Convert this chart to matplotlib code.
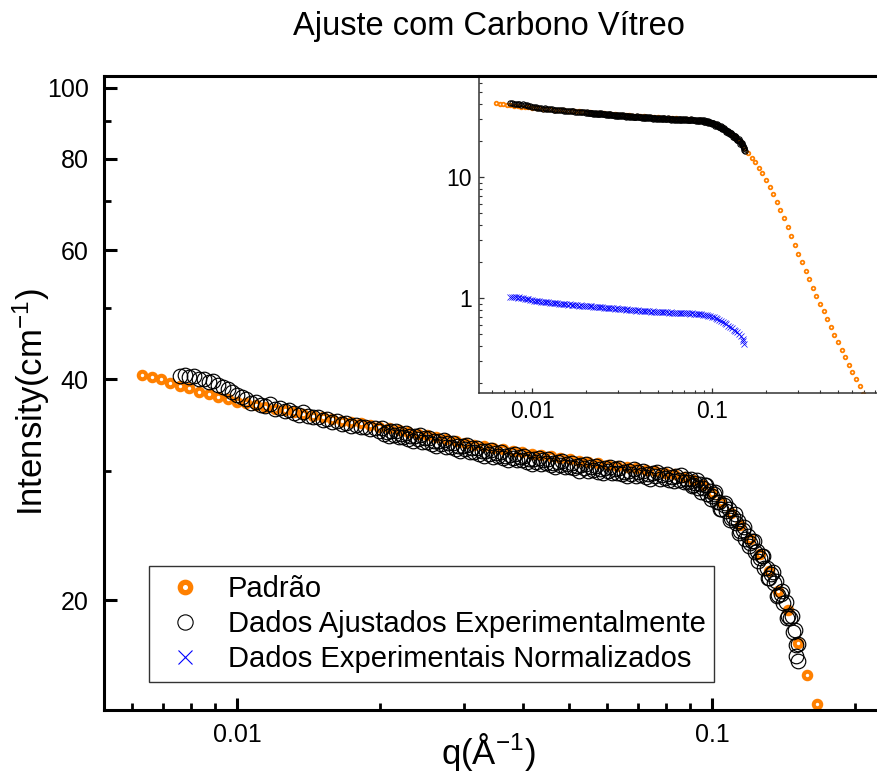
import matplotlib
matplotlib.use('Agg')
import matplotlib.pyplot as plt
from matplotlib.lines import Line2D
from matplotlib.ticker import NullFormatter, LogLocator

plt.rcParams['font.family'] = ['Liberation Sans', 'DejaVu Sans']
plt.rcParams['mathtext.default'] = 'regular'

# padrão (glassy carbon standard curve)
q_padrao = [0.00631, 0.00661, 0.00692, 0.00724, 0.00759, 0.00794, 0.00832, 0.00871, 0.00912, 0.00955,
            0.01000, 0.01047, 0.01096, 0.01148, 0.01202, 0.01259, 0.01318, 0.01380, 0.01445, 0.01514,
            0.01585, 0.01660, 0.01738, 0.01820, 0.01905, 0.01995, 0.02089, 0.02188, 0.02291, 0.02399,
            0.02512, 0.02630, 0.02754, 0.02884, 0.03020, 0.03162, 0.03311, 0.03467, 0.03631, 0.03802,
            0.03981, 0.04169, 0.04365, 0.04571, 0.04786, 0.05012, 0.05248, 0.05495, 0.05754, 0.06026,
            0.06310, 0.06607, 0.06918, 0.07244, 0.07586, 0.07943, 0.08318, 0.08710, 0.09120, 0.09550,
            0.1000, 0.1047, 0.1096, 0.1148, 0.1202, 0.1259, 0.1318, 0.1380, 0.1445, 0.1514,
            0.1585, 0.1660, 0.1738, 0.1820, 0.1905, 0.1995, 0.2089, 0.2188, 0.2291, 0.2399,
            0.2512, 0.2630, 0.2754, 0.2884, 0.3020, 0.3162, 0.3311, 0.3467, 0.3631, 0.3802,
            0.3981, 0.4169, 0.4365, 0.4571, 0.4786, 0.5012, 0.5248, 0.5495, 0.5754, 0.6026,
            0.6310, 0.6607, 0.6918]
i_padrao = [40.6, 40.3, 40.0, 39.6, 39.2, 38.9, 38.5, 38.2, 37.9, 37.6,
            37.3, 37.1, 36.9, 36.7, 36.5, 36.3, 36.1, 35.9, 35.7, 35.5,
            35.3, 35.15, 35.0, 34.85, 34.7, 34.5, 34.3, 34.1, 33.9, 33.75,
            33.55, 33.4, 33.2, 33.0, 32.8, 32.6, 32.45, 32.3, 32.15, 32.0,
            31.85, 31.7, 31.6, 31.45, 31.3, 31.15, 31.0, 30.9, 30.75, 30.6,
            30.5, 30.35, 30.25, 30.1, 30.0, 29.85, 29.7, 29.45, 29.2, 28.7,
            28.0, 27.2, 26.3, 25.3, 24.2, 23.1, 21.9, 20.6, 19.4, 17.5,
            15.8, 14.45, 13.2, 11.95, 10.7, 9.45, 8.3, 7.2, 6.2, 5.33,
            4.56, 3.86, 3.27, 2.76, 2.33, 1.98, 1.68, 1.43, 1.22, 1.047,
            0.900, 0.774, 0.668, 0.577, 0.499, 0.432, 0.374, 0.324, 0.282, 0.245,
            0.213, 0.186, 0.162]

# dados ajustados experimentalmente (last block: extra points around the knee)
q_ajustado = [0.007586, 0.007762, 0.007943, 0.008128, 0.008318, 0.008511, 0.008710, 0.008913, 0.009120, 0.009333,
              0.009550, 0.009772, 0.01000, 0.01023, 0.01047, 0.01072, 0.01096, 0.01122, 0.01148, 0.01175,
              0.01202, 0.01230, 0.01259, 0.01288, 0.01318, 0.01349, 0.01380, 0.01413, 0.01445, 0.01479,
              0.01514, 0.01549, 0.01585, 0.01622, 0.01660, 0.01698, 0.01738, 0.01778, 0.01820, 0.01862,
              0.01905, 0.01950, 0.01995,
              0.02018, 0.02042, 0.02065, 0.02089, 0.02114, 0.02138, 0.02163, 0.02188, 0.02213, 0.02239,
              0.02265, 0.02291, 0.02317, 0.02344, 0.02371, 0.02399, 0.02427, 0.02455, 0.02483, 0.02512,
              0.02541, 0.02570, 0.02600, 0.02630, 0.02661, 0.02692, 0.02723, 0.02754, 0.02786, 0.02818,
              0.02851, 0.02884, 0.02917, 0.02951, 0.02985, 0.03020, 0.03055, 0.03090, 0.03126, 0.03162,
              0.03199, 0.03236, 0.03273, 0.03311, 0.03350, 0.03388, 0.03428, 0.03467, 0.03508, 0.03548,
              0.03589, 0.03631, 0.03673, 0.03715, 0.03758, 0.03802, 0.03846, 0.03890, 0.03936, 0.03981,
              0.04027, 0.04074, 0.04121, 0.04169, 0.04217, 0.04266, 0.04315, 0.04365, 0.04416, 0.04467,
              0.04519, 0.04571, 0.04624, 0.04677, 0.04732, 0.04786, 0.04842, 0.04898, 0.04955, 0.05012,
              0.05070, 0.05129, 0.05188, 0.05248, 0.05309, 0.05370, 0.05433, 0.05495, 0.05559, 0.05623,
              0.05689, 0.05754, 0.05821, 0.05888, 0.05957, 0.06026, 0.06095, 0.06166, 0.06237, 0.06310,
              0.06383, 0.06457, 0.06531, 0.06607, 0.06683, 0.06761, 0.06839, 0.06918, 0.06998, 0.07079,
              0.07161, 0.07244, 0.07328, 0.07413, 0.07499, 0.07586, 0.07674, 0.07762, 0.07852, 0.07943,
              0.08035, 0.08128, 0.08222, 0.08318, 0.08414, 0.08511, 0.08610, 0.08710, 0.08810, 0.08913,
              0.09016, 0.09120, 0.09226, 0.09333, 0.09441, 0.09550, 0.09661, 0.09772, 0.09886, 0.1000,
              0.1012, 0.1023, 0.1035, 0.1047, 0.1059, 0.1072, 0.1084, 0.1096, 0.1109, 0.1122,
              0.1135, 0.1148, 0.1161, 0.1175, 0.1189, 0.1202, 0.1216, 0.1230, 0.1245, 0.1259,
              0.1274, 0.1288, 0.1303, 0.1318, 0.1334, 0.1349, 0.1365, 0.1380, 0.1396, 0.1413,
              0.1429, 0.1445, 0.1462, 0.1479, 0.1496, 0.1514, 0.1520,
              0.09068, 0.09279, 0.09495, 0.09716, 0.09943, 0.1017, 0.1041, 0.1065, 0.1090, 0.1116,
              0.1142, 0.1168, 0.1195, 0.1223, 0.1252, 0.1281, 0.1311, 0.1341, 0.1373, 0.1404,
              0.1437, 0.1471, 0.1505, 0.1505]
i_ajustado = [40.5, 40.6, 40.3, 40.4, 40.0, 40.1, 39.7, 39.8, 39.3, 39.1,
              38.8, 38.4, 38.1, 37.8, 37.6, 37.2, 37.3, 36.9, 36.8, 37.0,
              36.5, 36.6, 36.2, 36.4, 36.0, 35.8, 36.1, 35.7, 35.5, 35.6,
              35.2, 35.3, 35.0, 35.1, 34.8, 34.9, 34.6, 34.7, 34.4, 34.5,
              34.2, 34.3, 34.0,
              34.3, 33.7, 33.95, 33.5, 34.0, 33.65, 34.05, 33.4, 33.75, 33.4,
              33.8, 33.2, 33.45, 33.0, 33.5, 33.15, 33.55, 32.9, 33.25, 32.9,
              33.3, 32.7, 32.95, 32.5, 33.0, 32.65, 33.05, 32.4, 32.75, 32.4,
              32.8, 32.2, 32.45, 32.0, 32.5, 32.15, 32.55, 31.9, 32.25, 31.9,
              32.3, 31.7, 31.95, 31.5, 32.0, 31.65, 32.05, 31.4, 31.75, 31.45,
              31.85, 31.25, 31.5, 31.1, 31.6, 31.25, 31.65, 31.05, 31.4, 31.05,
              31.45, 30.9, 31.15, 30.7, 31.2, 30.9, 31.3, 30.7, 31.05, 30.75,
              31.15, 30.55, 30.8, 30.4, 30.9, 30.6, 31.0, 30.35, 30.7, 30.4,
              30.8, 30.25, 30.5, 30.05, 30.55, 30.25, 30.65, 30.05, 30.4, 30.1,
              30.5, 29.95, 30.2, 29.8, 30.3, 30.0, 30.4, 29.8, 30.15, 29.85,
              30.25, 29.7, 29.95, 29.55, 30.05, 29.75, 30.15, 29.55, 29.9, 29.6,
              30.0, 29.45, 29.7, 29.3, 29.8, 29.5, 29.9, 29.3, 29.65, 29.35,
              29.75, 29.2, 29.45, 29.05, 29.55, 29.2, 29.6, 28.95, 29.3, 28.95,
              29.3, 28.7, 28.9, 28.4, 28.8, 28.4, 28.7, 27.95, 28.15, 27.7,
              27.95, 27.2, 27.25, 26.65, 26.95, 26.45, 26.65, 25.85, 26.0, 25.45,
              25.65, 24.85, 24.9, 24.25, 24.5, 23.95, 24.1, 23.25, 23.35, 22.8,
              22.95, 22.15, 22.15, 21.45, 21.7, 21.1, 21.25, 20.35, 20.4, 19.8,
              19.9, 19.0, 18.9, 18.1, 18.2, 17.4, 16.5,
              28.6, 29.2, 28.1, 28.7, 27.45, 28.05, 26.6, 27.15, 25.7, 26.2,
              24.7, 25.2, 23.7, 24.1, 22.6, 23.0, 21.45, 21.85, 20.25, 20.6,
              18.9, 19.05, 17.35, 16.8]

# dados experimentais normalizados
q_normalizado = [0.007586, 0.007762, 0.007943, 0.008128, 0.008318, 0.008511, 0.008710, 0.008913, 0.009120, 0.009333,
                 0.009550, 0.009772, 0.01000, 0.01023, 0.01047, 0.01072, 0.01096, 0.01122, 0.01148, 0.01175,
                 0.01202, 0.01230, 0.01259, 0.01288, 0.01318, 0.01349, 0.01380, 0.01413, 0.01445, 0.01479,
                 0.01514, 0.01549, 0.01585, 0.01622, 0.01660, 0.01698, 0.01738, 0.01778, 0.01820, 0.01862,
                 0.01905, 0.01950, 0.01995, 0.02042, 0.02089, 0.02138, 0.02188, 0.02239, 0.02291, 0.02344,
                 0.02399, 0.02455, 0.02512, 0.02570, 0.02630, 0.02692, 0.02754, 0.02818, 0.02884, 0.02951,
                 0.03020, 0.03090, 0.03162, 0.03236, 0.03311, 0.03388, 0.03467, 0.03548, 0.03631, 0.03715,
                 0.03802, 0.03890, 0.03981, 0.04074, 0.04169, 0.04266, 0.04365, 0.04467, 0.04571, 0.04677,
                 0.04786, 0.04898, 0.05012, 0.05129, 0.05248, 0.05370, 0.05495, 0.05623, 0.05754, 0.05888,
                 0.06026, 0.06166, 0.06310, 0.06457, 0.06607, 0.06761, 0.06918, 0.07079, 0.07244, 0.07413,
                 0.07586, 0.07762, 0.07943, 0.08128, 0.08318, 0.08511, 0.08710, 0.08913, 0.09120, 0.09333,
                 0.09550, 0.09772, 0.1000, 0.1023, 0.1047, 0.1072, 0.1096, 0.1122, 0.1148, 0.1175,
                 0.1202, 0.1230, 0.1259, 0.1288, 0.1318, 0.1349, 0.1380, 0.1413, 0.1445, 0.1479,
                 0.1496, 0.1514]
i_normalizado = [1.020, 1.023, 1.015, 1.018, 1.008, 1.010, 1.000, 1.003, 0.990, 0.985,
                 0.977, 0.967, 0.960, 0.952, 0.947, 0.937, 0.940, 0.929, 0.927, 0.932,
                 0.919, 0.922, 0.912, 0.917, 0.907, 0.902, 0.909, 0.899, 0.894, 0.897,
                 0.887, 0.889, 0.882, 0.884, 0.877, 0.879, 0.872, 0.874, 0.866, 0.869,
                 0.861, 0.864, 0.856, 0.859, 0.851, 0.854, 0.846, 0.849, 0.841, 0.844,
                 0.836, 0.839, 0.831, 0.834, 0.826, 0.829, 0.821, 0.824, 0.816, 0.819,
                 0.811, 0.814, 0.806, 0.809, 0.801, 0.804, 0.796, 0.798, 0.793, 0.796,
                 0.788, 0.791, 0.786, 0.788, 0.781, 0.783, 0.778, 0.781, 0.773, 0.776,
                 0.771, 0.773, 0.768, 0.771, 0.763, 0.766, 0.761, 0.763, 0.758, 0.761,
                 0.756, 0.758, 0.753, 0.756, 0.751, 0.753, 0.748, 0.751, 0.746, 0.748,
                 0.743, 0.746, 0.741, 0.743, 0.738, 0.738, 0.733, 0.730, 0.725, 0.720,
                 0.715, 0.708, 0.700, 0.690, 0.680, 0.670, 0.657, 0.645, 0.632, 0.620,
                 0.605, 0.592, 0.577, 0.564, 0.549, 0.534, 0.519, 0.501, 0.484, 0.461,
                 0.441, 0.418]

labels = ['Padrão', 'Dados Ajustados Experimentalmente', 'Dados Experimentais Normalizados']
orange = '#FF8000'
W, H = 877, 773

fig = plt.figure(figsize=(W / 100, H / 100), dpi=100)

# main axes
ax = fig.add_axes([104 / W, 1 - 710 / H, (W - 104) / W, (710 - 76) / H])
ax.plot(q_padrao, i_padrao, ls='none', marker='o', ms=5.4, mew=2.9, mfc='white', mec=orange)
ax.plot(q_ajustado, i_ajustado, ls='none', marker='o', ms=10.5, mew=0.85, mfc='none', mec='black')
ax.set_xscale('log')
ax.set_yscale('log')
ax.set_xlim(0.005248, 0.2225)
ax.set_ylim(14.16, 103.8)
ax.set_yticks([20, 40, 60, 80, 100], labels=['20', '40', '60', '80', '100'])
ax.set_yticks([30, 50, 70, 90], minor=True)
ax.set_xticks([0.01, 0.1], labels=['0.01', '0.1'])
ax.set_xticks([0.006, 0.007, 0.008, 0.009, 0.02, 0.03, 0.04, 0.05, 0.06, 0.07, 0.08, 0.09, 0.2], minor=True)
ax.xaxis.set_minor_formatter(NullFormatter())
ax.yaxis.set_minor_formatter(NullFormatter())
ax.tick_params(which='both', direction='in', top=False, right=False, labelsize=18)
ax.tick_params(which='major', length=9, width=2.2)
ax.tick_params(which='minor', length=5, width=2)
ax.tick_params(axis='y', pad=11)
ax.tick_params(axis='x', pad=9)
ax.spines['right'].set_visible(False)
for s in ('left', 'bottom', 'top'):
    ax.spines[s].set_linewidth(2.2)

handles = [
    Line2D([], [], ls='none', marker='o', ms=7.5, mew=3.8, mfc='white', mec=orange),
    Line2D([], [], ls='none', marker='o', ms=11, mew=0.8, mfc='none', mec='black'),
    Line2D([], [], ls='none', marker='x', ms=10.5, mew=0.8, color='#0000FF'),
]
leg = ax.legend(handles, labels, loc='upper left', bbox_to_anchor=(149 / W, 1 - 566 / H),
                bbox_transform=fig.transFigure, borderaxespad=0, fontsize=21, frameon=True,
                fancybox=False, framealpha=1, edgecolor='#333333', borderpad=0.3,
                handlelength=1.9, handletextpad=0.5, labelspacing=0.25)
leg.get_frame().set_linewidth(1.0)

# inset
ax_in = fig.add_axes([479 / W, 1 - 393 / H, (W - 479) / W, (393 - 76) / H])
ax_in.plot(q_padrao, i_padrao, ls='none', marker='o', ms=2.6, mew=1.3, mfc='white', mec=orange)
ax_in.plot(q_ajustado, i_ajustado, ls='none', marker='o', ms=3.8, mew=0.8, mfc='none', mec='black')
ax_in.plot(q_normalizado, i_normalizado, ls='none', marker='x', ms=4, mew=0.5, color='#0000FF')
ax_in.set_xscale('log')
ax_in.set_yscale('log')
ax_in.set_xlim(0.005076, 0.8254)
ax_in.set_ylim(0.164, 68.3)
ax_in.set_xticks([0.01, 0.1], labels=['0.01', '0.1'])
ax_in.set_yticks([1, 10], labels=['1', '10'])
ax_in.xaxis.set_minor_locator(LogLocator(base=10, subs=range(2, 10)))
ax_in.yaxis.set_minor_locator(LogLocator(base=10, subs=range(2, 10)))
ax_in.xaxis.set_minor_formatter(NullFormatter())
ax_in.yaxis.set_minor_formatter(NullFormatter())
ax_in.tick_params(which='both', direction='in', top=False, right=False, labelsize=16.5,
                  color='#333333', pad=5)
ax_in.tick_params(which='major', length=3.5, width=0.9)
ax_in.tick_params(which='minor', length=2, width=0.8)
ax_in.spines['right'].set_visible(False)
ax_in.spines['top'].set_linewidth(2.2)
for s in ('left', 'bottom'):
    ax_in.spines[s].set_linewidth(1.1)
    ax_in.spines[s].set_color('#333333')

fig.text(489 / W, 1 - 26 / H, 'Ajuste com Carbono Vítreo', fontsize=23.5, ha='center', va='center')
fig.text(31 / W, 1 - 402 / H, 'Intensity(cm$^{-1}$)', fontsize=25, rotation=90, ha='center', va='center')
fig.text(488 / W, 1 - 752 / H, 'q(Å$^{-1}$)', fontsize=25, ha='center', va='center')

fig.savefig('out.png', dpi=100)
